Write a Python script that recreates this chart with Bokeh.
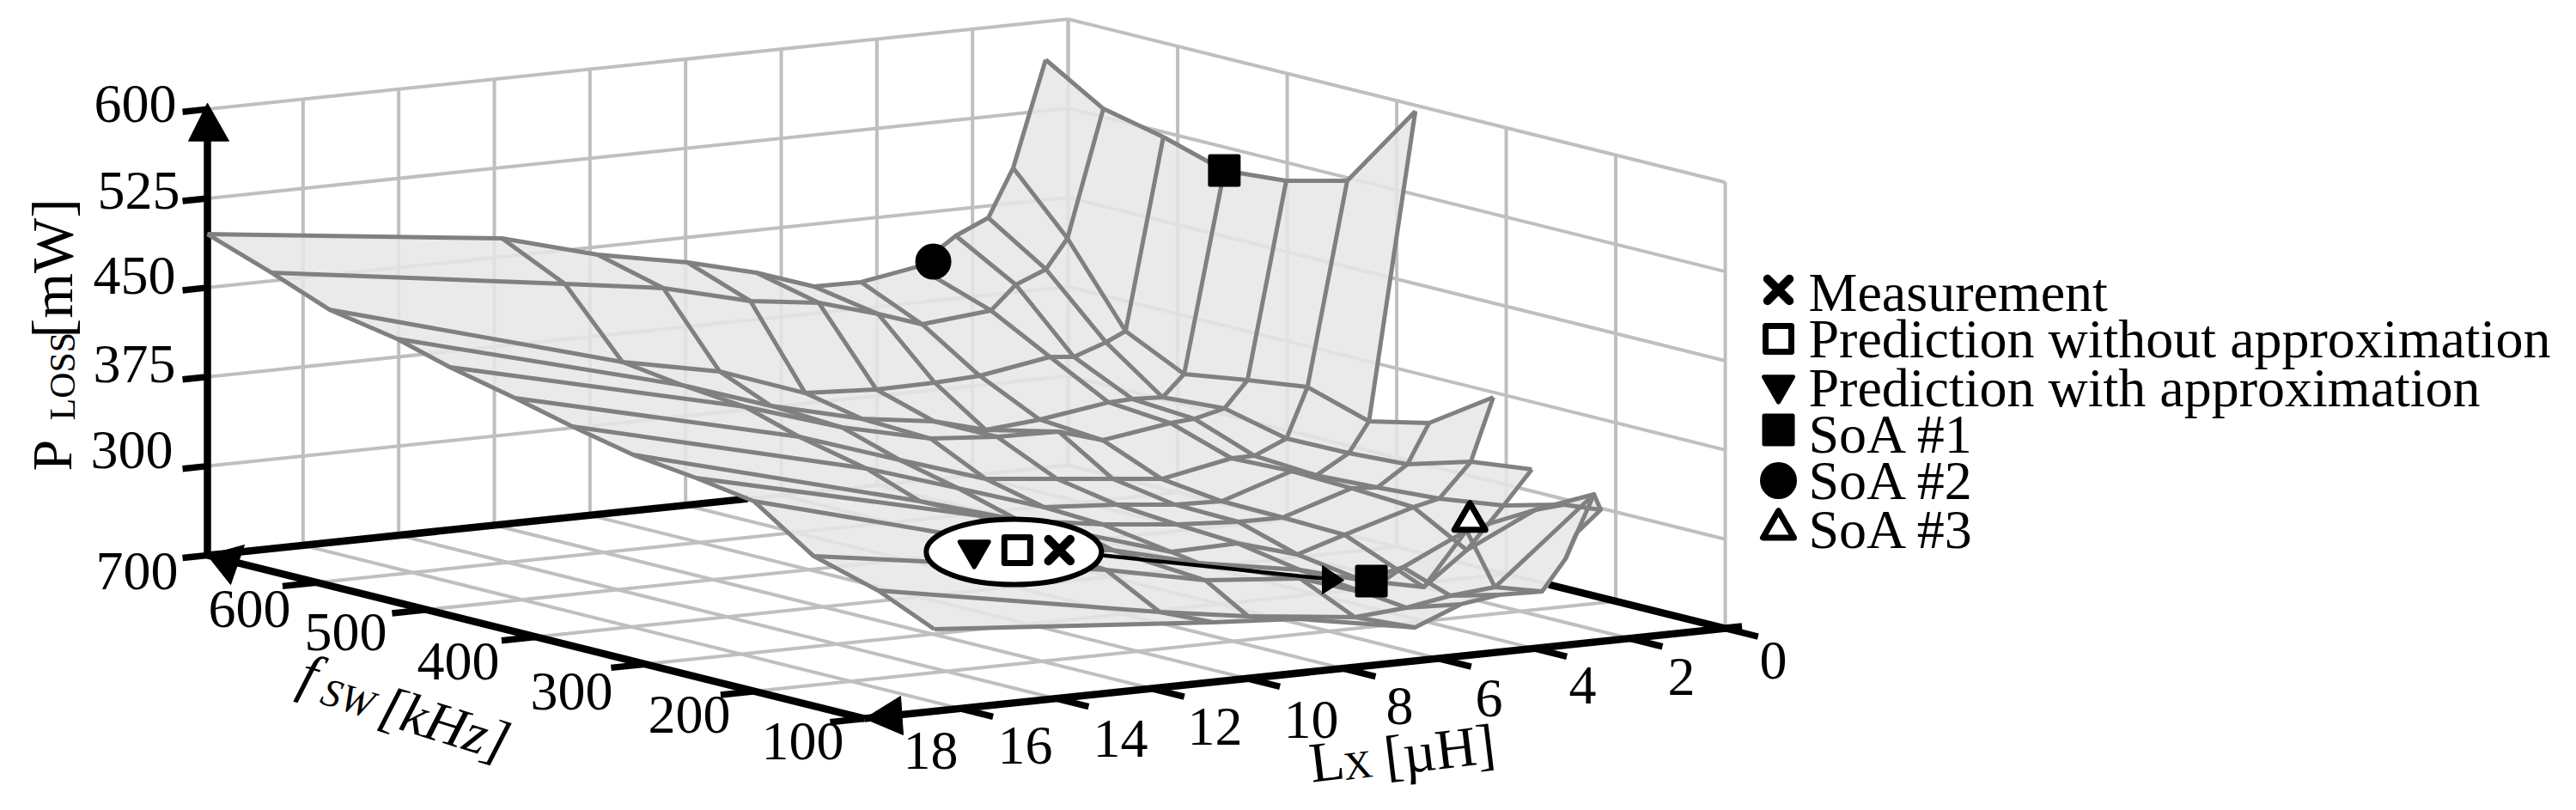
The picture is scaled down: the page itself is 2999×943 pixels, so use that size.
import math
from bokeh.plotting import figure
from bokeh.models import Range1d
from bokeh.embed import file_html
from bokeh.resources import INLINE

# --- data -----------------------------------------------------------------
FSW_ROWS = [700,650,600,550,500,450,400,350,300,250,200,150,100]   # kHz
LX_TABLE = [
[18.0,11.84,9.84,7.96,6.52,5.32,4.33,3.16,2.35,1.67,1.15,0.47],
[17.8,11.67,9.61,7.79,6.36,5.12,4.2,2.76,2.24,1.61,1.16,0.41],
[17.74,11.61,9.58,7.79,6.3,5.08,4.14,2.67,2.17,1.5,1.09,0.3],
[17.47,11.5,9.65,7.75,6.24,5.16,4.03,2.59,2.09,1.46,1.01,0.17],
[17.51,11.34,9.31,7.46,6.07,4.78,3.86,2.44,1.94,1.31,0.83,0.02],
[17.29,11.35,9.25,7.45,5.96,4.79,3.77,2.31,1.83,1.16,0.72,-0.11],
[17.24,11.09,9.17,7.37,5.85,4.64,3.66,2.2,1.68,1.0,0.58,-0.39],
[17.11,11.12,9.06,7.3,5.74,4.46,3.53,2.09,1.55,0.92,0.47],
[16.94,11.01,8.95,7.01,5.62,4.37,3.38,1.94,1.4,0.74,0.27],
[16.88,10.81,9.37,7.58,5.46,4.16,2.87,1.97,1.2,0.61],
[16.77,10.66,8.58,6.6,5.22,4.45,3.12,1.68,1.09],
[16.57,10.68,8.83,6.6,5.52,4.6,3.67,1.6,1.46],
[16.54,10.71,8.95,6.49,5.53,4.73,3.83,3.34,3.11],
]
PLOSS_TABLE = [
[495.0,465.5,443.4,428.9,414.2,397.6,397.1,405.1,427.7,440.0,479.7,567.8],
[473.1,438.0,425.7,407.2,399.7,385.1,372.6,378.1,397.5,407.9,432.0,537.8],
[453.3,383.4,367.0,341.3,338.0,338.6,340.4,350.1,348.0,357.5,365.1,525.0],
[439.0,374.9,349.8,330.9,322.4,310.7,314.6,323.0,323.7,322.5,340.1,507.7],
[426.8,367.6,341.7,324.5,320.2,319.1,308.0,316.4,317.9,324.0,345.7,509.8],
[411.3,353.8,325.5,302.0,295.7,290.8,286.5,297.7,297.8,309.5,350.9,520.7],
[398.7,337.5,312.8,289.3,285.0,280.0,278.7,297.9,292.1,308.0,332.9,589.5],
[385.7,321.6,297.0,286.0,279.4,276.2,275.9,294.4,292.8,309.7,342.4],
[377.0,320.3,297.1,273.1,274.5,259.8,272.2,289.3,294.3,322.5,374.7],
[368.7,302.0,295.9,277.5,262.8,248.7,237.5,264.8,299.1,326.9],
[333.4,296.2,278.7,271.9,253.8,272.2,297.6,308.9,310.7],
[315.1,272.3,260.9,250.8,254.2,260.4,263.7,333.0,319.4],
[294.0,275.2,270.7,253.1,268.6,273.1,272.2,297.6,318.3],
]
SOA1 = (0.17,550,507.7)
SOA2 = (2.82,700,408.0)
SOA3 = (0.76,300,272.8)
OPT_SOA = (2.82,300,230.9)
PRED_APPROX = (9.98,350,275.6)
PRED_EXACT = (9.08,350,271.8)
MEASURED = (8.2,350,268.1)
LX_TICKS = [18,16,14,12,10,8,6,4,2,0]
FSW_TICKS = [700,600,500,400,300,200,100]
P_TICKS = [225,300,375,450,525,600]
P_LABELS = ["600","525","450","375","300"]
FSW_LABELS = ["700","600","500","400","300","200","100"]
LX_LABELS = ["18","16","14","12","10","8","6","4","2","0"]
LEGEND = ["Measurement","Prediction without approximation","Prediction with approximation","SoA #1","SoA #2","SoA #3"]

def proj(L,f,P=225):
    return (241+(18-L)*55.67+(700-f)*1.275, 646-(18-L)*5.83+(700-f)*0.3167-(P-225)*1.385)

W,H=2991,935
p=figure(width=W,height=H,x_range=Range1d(0,W),y_range=Range1d(H,0),toolbar_location=None,output_backend="svg",min_border=0)
p.axis.visible=False; p.grid.visible=False; p.outline_line_color=None

seg=[]
for L in LX_TICKS:
    seg.append((proj(L,700),proj(L,100))); seg.append((proj(L,700),proj(L,700,600)))
for f in FSW_TICKS:
    seg.append((proj(0,f),proj(18,f))); seg.append((proj(0,f),proj(0,f,600)))
for P in P_TICKS:
    seg.append((proj(18,700,P),proj(0,700,P))); seg.append((proj(0,700,P),proj(0,100,P)))
p.multi_line([[a[0],b[0]] for a,b in seg],[[a[1],b[1]] for a,b in seg],line_color="#bfbfbf",line_width=4)

bl=[(proj(18,700),proj(18,700,600)),(proj(18,700),proj(18,100)),(proj(18,100),proj(-0.35,100)),(proj(18,700),proj(6.7,700)),(proj(0,261),proj(0,100))]
p.multi_line([[a[0],b[0]] for a,b in bl],[[a[1],b[1]] for a,b in bl],line_color="black",line_width=8.5)
tk=[(proj(18.52,700,P),proj(18,700,P)) for P in P_TICKS]
tk+=[(proj(18.72,f),proj(18,f)) for f in FSW_TICKS[1:]]
tk+=[(proj(L,100),proj(L,70)) for L in LX_TICKS[1:]]
p.multi_line([[a[0],b[0]] for a,b in tk],[[a[1],b[1]] for a,b in tk],line_color="black",line_width=7.5)

grid=[[proj(L,FSW_ROWS[i],P) for L,P in zip(LX_TABLE[i],PLOSS_TABLE[i])] for i in range(len(FSW_ROWS))]
qx,qy=[],[]
for i in range(len(grid)-1):
    a,b=grid[i],grid[i+1]
    for j in range(min(len(a),len(b))-1):
        q=[a[j],a[j+1],b[j+1],b[j]]
        qx.append([v[0] for v in q]); qy.append([v[1] for v in q])
p.patches(qx,qy,fill_color="#e6e6e6",fill_alpha=0.85,line_color=None)
lx=[[v[0] for v in r] for r in grid]; ly=[[v[1] for v in r] for r in grid]
for j in range(12):
    c=[r[j] for r in grid if len(r)>j]
    lx.append([v[0] for v in c]); ly.append([v[1] for v in c])
p.multi_line(lx,ly,line_color="#808080",line_width=5,line_join="round")

# axis arrowheads
ax,ay=proj(18,700,600); bx,by=proj(18,700); cx,cy=proj(18,100)
p.patches([[ax,ax-22,ax+25],[bx,bx+43,bx+27],[cx,cx+42,cx+45]],[[ay-7,ay+37,ay+37],[by,by-12,by+34],[cy,cy-26,cy+19]],fill_color="black",line_color="black")

def t(x,y,s,size=64,angle=0,align="center",base="middle",style="normal"):
    p.text([x],[y],[s],text_font="Liberation Serif",text_font_size=f"{size}px",angle=angle,text_align=align,text_baseline=base,text_font_style=style,text_color="black")
for s,(x,y) in zip(P_LABELS,[(157,120),(161,221),(156,320),(156,423),(153,523)]): t(x,y,s)
for s,(x,y) in zip(FSW_LABELS,[(159,664),(290,708),(402,735),(533,769),(665,804),(802,831),(934,862)]): t(x,y,s)
for s,(x,y) in zip(LX_LABELS,[(1083,873),(1193,867),(1304,859),(1414,845),(1526,837),(1629,821),(1733,812),(1842,797),(1957,787),(2064,768)]): t(x,y,s)
t(60,548,"P",66,math.pi/2,"left","alphabetic"); t(72,489,"LOSS",42,math.pi/2,"left","alphabetic"); t(60,393,"[mW]",68,math.pi/2,"left","alphabetic")
t(351,781,"f",66,-0.3,"left","alphabetic","italic"); t(375,803,"SW",46,-0.3,"left","alphabetic","italic"); t(444,819,"[kHz]",66,-0.3,"left","alphabetic","italic")
t(1524,888,"L",66,0.12,"left","alphabetic"); t(1564,892,"X",46,0.12,"left","alphabetic"); t(1611,880,"[µH]",66,0.12,"left","alphabetic")
for s,y in zip(LEGEND,[340,394,451,505,559,616]):
    t(2105,y,s,64,0,"left")

# callout
ex,ey=proj(*PRED_EXACT)
mx,my=proj(*MEASURED)
ox,oy=proj(*OPT_SOA)
p.ellipse([ex-4],[ey+2],width=[204],height=[76],fill_color="white",line_color="black",line_width=6)
p.line([mx+50,ox-56],[my+6,oy-3],line_color="black",line_width=4.5)
p.patches([[ox-32,ox-57,ox-57]],[[oy-1,oy-18,oy+15]],fill_color="black",line_color="black")

def m(mk,pos,size,fill="black",lw=4):
    p.scatter([pos[0]],[pos[1]],marker=mk,size=size,fill_color=fill,line_color="black",line_width=lw,line_join="round",line_cap="round")
m("square",proj(*SOA1),33,"black",5)
m("circle",proj(*SOA2),40,"black",2)
m("triangle",proj(*SOA3),36,"white",7)
m("square",proj(*OPT_SOA),33,"black",5)
m("inverted_triangle",proj(*PRED_APPROX),34,"black",5)
m("square",proj(*PRED_EXACT),30,"white",7)
m("x",proj(*MEASURED),36,"black",10)
for mk,y,s,fc,lw in [("x",337,36,"black",10),("square",394,30,"white",7),("inverted_triangle",448,34,"black",5),("square",500,33,"black",5),("circle",559,41,"black",2),("triangle",615,36,"white",7)]:
    m(mk,(2070,y),s,fc,lw)
open("out.html","w").write(file_html(p,INLINE))
